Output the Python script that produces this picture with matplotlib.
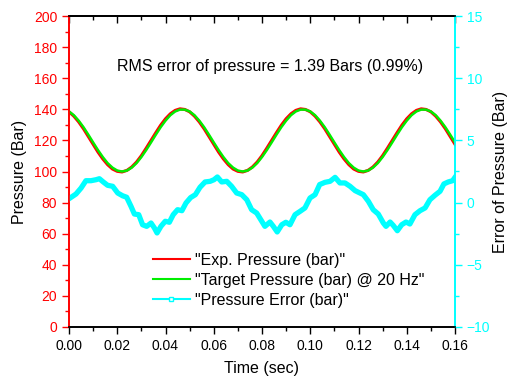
import matplotlib
matplotlib.use("Agg")
import matplotlib.pyplot as plt
from matplotlib.lines import Line2D
from matplotlib.ticker import MultipleLocator, FormatStrFormatter

plt.rcParams['font.family'] = ['Liberation Sans', 'DejaVu Sans']

# ---- data ----
time_p = [i * 0.002 for i in range(81)]
period_target = [138.6, 136.2, 132.7, 128.5, 123.7, 118.7, 113.8, 109.3, 105.4, 102.5,
                 100.6, 100.0, 100.6, 102.5, 105.4, 109.3, 113.8, 118.7, 123.7, 128.5,
                 132.7, 136.2, 138.6, 139.8, 139.8]
period_exp = [138.4, 135.6, 131.9, 127.5, 122.5, 117.5, 112.5, 108.1, 104.4, 101.6,
              100.1, 99.7, 100.7, 102.9, 106.1, 110.2, 115.0, 120.0, 125.0, 129.8,
              133.9, 137.1, 139.3, 140.3, 139.9]
target_pressure = (period_target * 4)[:81]
exp_pressure = (period_exp * 4)[:81]

time_err = [0.0000, 0.0029, 0.0050, 0.0070, 0.0091, 0.0112, 0.0126, 0.0142, 0.0160,
            0.0181, 0.0202, 0.0222, 0.0239, 0.0257, 0.0271, 0.0289, 0.0305, 0.0322,
            0.0340, 0.0354, 0.0365, 0.0381, 0.0399, 0.0416, 0.0432, 0.0450, 0.0468,
            0.0485, 0.0504, 0.0524, 0.0543, 0.0564, 0.0585, 0.0601, 0.0615, 0.0633,
            0.0654, 0.0674, 0.0695, 0.0716, 0.0737, 0.0757, 0.0778, 0.0799, 0.0812,
            0.0833, 0.0847, 0.0863, 0.0882, 0.0899, 0.0916, 0.0937, 0.0958, 0.0978,
            0.0999, 0.1020, 0.1039, 0.1061, 0.1082, 0.1103, 0.1123, 0.1144, 0.1165,
            0.1186, 0.1206, 0.1220, 0.1241, 0.1261, 0.1282, 0.1303, 0.1314, 0.1331,
            0.1344, 0.1361, 0.1379, 0.1397, 0.1413, 0.1434, 0.1455, 0.1476, 0.1496,
            0.1517, 0.1538, 0.1554, 0.1572, 0.1590, 0.1600]
pressure_error = [0.31, 0.69, 1.17, 1.76, 1.76, 1.84, 1.92, 1.66, 1.39,
                  1.31, 0.77, 0.55, 0.43, -0.30, -0.92, -0.97, -1.78, -1.91,
                  -1.64, -2.04, -2.44, -1.91, -1.50, -1.58, -0.97, -0.57, -0.65,
                  -0.03, 0.40, 0.64, 1.23, 1.66, 1.71, 1.84, 2.06, 1.66,
                  1.71, 1.31, 0.77, 0.64, 0.23, -0.57, -0.84, -1.50, -1.91,
                  -1.56, -1.91, -2.36, -1.78, -1.58, -1.78, -0.97, -0.70, -0.43,
                  0.37, 0.64, 1.45, 1.63, 1.71, 2.03, 1.58, 1.58, 1.31,
                  0.96, 0.77, 0.64, 0.10, -0.57, -0.92, -1.64, -1.91, -1.56,
                  -1.83, -2.26, -1.78, -1.56, -1.72, -0.97, -0.65, -0.43, 0.23,
                  0.59, 0.91, 1.50, 1.66, 1.76, 2.03]

title_text = "RMS error of pressure = 1.39 Bars (0.99%)"
labels = ['"Exp. Pressure (bar)"', '"Target Pressure (bar) @ 20 Hz"', '"Pressure Error (bar)"']

RED = '#FF0000'
GREEN = '#00EE00'
CYAN = '#00FFFF'
FS = 10      # tick labels
FL = 11.5    # labels, title, legend

fig = plt.figure(figsize=(5.07, 3.76), dpi=100)
ax = fig.add_axes([69/507, 1-327/376, (455-69)/507, (327-16)/376])
ax2 = ax.twinx()

ax.plot(time_p, exp_pressure, color=RED, lw=2.2, zorder=3)
ax.plot(time_p, target_pressure, color=GREEN, lw=1.8, zorder=4)
ax2.plot(time_err, pressure_error, color=CYAN, lw=3.8, solid_joinstyle='round')

ax.set_xlim(0, 0.16)
ax.set_ylim(0, 200)
ax2.set_ylim(-10, 15)

ax.xaxis.set_major_locator(MultipleLocator(0.02))
ax.xaxis.set_minor_locator(MultipleLocator(0.01))
ax.xaxis.set_major_formatter(FormatStrFormatter('%.2f'))
ax.yaxis.set_major_locator(MultipleLocator(20))
ax.yaxis.set_minor_locator(MultipleLocator(10))
ax2.yaxis.set_major_locator(MultipleLocator(5))
ax2.yaxis.set_minor_locator(MultipleLocator(2.5))

ax.tick_params(axis='x', which='both', direction='out', top=False, labelsize=FS, colors='black', width=1)
ax.tick_params(axis='x', which='major', length=5)
ax.tick_params(axis='x', which='minor', length=3)
ax.tick_params(axis='y', which='both', direction='out', labelsize=FS, colors=RED, width=1)
ax.tick_params(axis='y', which='major', length=5)
ax.tick_params(axis='y', which='minor', length=3)
ax2.tick_params(axis='y', which='both', direction='out', labelsize=FS, colors=CYAN, width=1)
ax2.tick_params(axis='y', which='major', length=5)
ax2.tick_params(axis='y', which='minor', length=3)

# top ticks inward
secx = ax.secondary_xaxis('top')
secx.xaxis.set_major_locator(MultipleLocator(0.02))
secx.xaxis.set_minor_locator(MultipleLocator(0.01))
secx.tick_params(axis='x', which='both', direction='in', labeltop=False, width=1)
secx.tick_params(axis='x', which='major', length=5)
secx.tick_params(axis='x', which='minor', length=3)

for a in (ax, ax2):
    a.spines['left'].set_color(RED)
    a.spines['right'].set_color(CYAN)
    a.spines['top'].set_color('black')
    a.spines['bottom'].set_color('black')
    for s in a.spines.values():
        s.set_linewidth(1.2)
secx.spines['top'].set_linewidth(1.2)

ax.set_xlabel('Time (sec)', fontsize=FL, labelpad=6)
ax.set_ylabel('Pressure (Bar)', fontsize=FL, color='black', labelpad=5)
ax2.set_ylabel('Error of Pressure (Bar)', fontsize=FL, color='black', labelpad=2)

ax.text(0.521, 0.838, title_text, transform=ax.transAxes, ha='center', va='center', fontsize=FL)

handles = [Line2D([], [], color=RED, lw=1.5),
           Line2D([], [], color=GREEN, lw=1.5),
           Line2D([], [], color=CYAN, lw=1.5, marker='s', markersize=3,
                  markerfacecolor='white', markeredgecolor=CYAN)]
leg = ax2.legend(handles, labels, loc='upper left', bbox_to_anchor=(153/507, 1-253/376),
                 bbox_transform=fig.transFigure, frameon=False, fontsize=FL,
                 handlelength=2.3, handletextpad=0.3, labelspacing=0.3, borderpad=0,
                 borderaxespad=0)

fig.savefig('out.png', dpi=100)
